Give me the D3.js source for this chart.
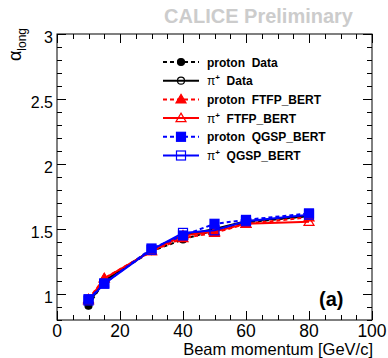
<!DOCTYPE html>
<html>
<head>
<meta charset="utf-8">
<script src="https://cdn.jsdelivr.net/npm/d3@7"></script>
<style>
  body { margin: 0; background: #fff; }
  svg { display: block; font-family: "Liberation Sans", Arial, sans-serif; }
  text { white-space: pre; }
</style>
</head>
<body>
<div id="chart"></div>
<script>
const momenta = [10, 15, 30, 40, 50, 60, 80];
const protonData = [0.91, 1.10, 1.33, 1.42, 1.49, 1.55, 1.60];
const pionData = [0.93, 1.10, 1.34, 1.45, 1.50, 1.56, 1.60];
const protonFTFP = [0.96, 1.12, 1.33, 1.43, 1.47, 1.54, 1.59];
const pionFTFP = [0.95, 1.12, 1.33, 1.45, 1.48, 1.54, 1.555];
const protonQGSP = [0.96, 1.08, 1.35, 1.45, 1.54, 1.57, 1.62];
const pionQGSP = [0.95, 1.08, 1.34, 1.47, 1.49, 1.56, 1.61];

const xTicks = [0, 20, 40, 60, 80, 100];
const yTicks = [1, 1.5, 2, 2.5, 3];

const series = [
  { name: 'proton  Data', pre: '', values: protonData, color: '#000', dashed: true, shape: 'circle', filled: true },
  { name: '  Data', pre: 'π', values: pionData, color: '#000', dashed: false, shape: 'circle', filled: false },
  { name: 'proton  FTFP_BERT', pre: '', values: protonFTFP, color: '#ff0000', dashed: true, shape: 'triangle', filled: true },
  { name: '  FTFP_BERT', pre: 'π', values: pionFTFP, color: '#ff0000', dashed: false, shape: 'triangle', filled: false },
  { name: 'proton  QGSP_BERT', pre: '', values: protonQGSP, color: '#0000ff', dashed: true, shape: 'square', filled: true },
  { name: '  QGSP_BERT', pre: 'π', values: pionQGSP, color: '#0000ff', dashed: false, shape: 'square', filled: false },
];

const width = 388, height = 358;
const margin = { top: 34, right: 16, bottom: 38, left: 57 };

const x = d3.scaleLinear().domain([0, 100]).range([margin.left, width - margin.right]);
const y = d3.scaleLinear().domain([0.8, 3]).range([height - margin.bottom, margin.top]);

const svg = d3.select('#chart').append('svg')
  .attr('width', width).attr('height', height);

// CALICE label
svg.append('text')
  .attr('x', 353).attr('y', 23)
  .attr('text-anchor', 'end')
  .attr('font-size', 20).attr('font-weight', 'bold')
  .attr('fill', '#cccccc')
  .text('CALICE Preliminary');

const x0 = x.range()[0], x1 = x.range()[1];
const y0 = y.range()[0], y1 = y.range()[1];

// frame
svg.append('rect')
  .attr('x', x0).attr('y', y1)
  .attr('width', x1 - x0).attr('height', y0 - y1)
  .attr('fill', 'none').attr('stroke', '#000').attr('stroke-width', 1);

// ticks on all sides
const ticks = svg.append('g').attr('stroke', '#000').attr('stroke-width', 1);
d3.range(0, 101, 5).forEach(v => {
  const len = v % 20 === 0 ? 9 : 5;
  const px = Math.round(x(v)) + 0.5;
  ticks.append('line').attr('x1', px).attr('x2', px).attr('y1', y0).attr('y2', y0 - len);
  ticks.append('line').attr('x1', px).attr('x2', px).attr('y1', y1).attr('y2', y1 + len);
});
d3.range(8, 31).map(v => v / 10).forEach(v => {
  const major = Math.abs(v * 2 - Math.round(v * 2)) < 1e-6;
  const len = major ? 9 : 5;
  const py = Math.round(y(v)) + 0.5;
  ticks.append('line').attr('x1', x0).attr('x2', x0 + len).attr('y1', py).attr('y2', py);
  ticks.append('line').attr('x1', x1).attr('x2', x1 - len).attr('y1', py).attr('y2', py);
});

// tick labels
svg.append('g').selectAll('text').data(xTicks).join('text')
  .attr('x', d => x(d)).attr('y', y0 + 16.5)
  .attr('text-anchor', 'middle').attr('font-size', 17.5)
  .text(d => d);
svg.append('g').selectAll('text').data(yTicks).join('text')
  .attr('x', x0 - 4).attr('y', d => y(d) + 9)
  .attr('text-anchor', 'end').attr('font-size', 16)
  .text(d => d);

// axis titles
svg.append('text')
  .attr('x', x1 + 1).attr('y', 355)
  .attr('text-anchor', 'end').attr('font-size', 16.5)
  .text('Beam momentum [GeV/c]');

const yt = svg.append('text')
  .attr('transform', `translate(21, 28) rotate(-90)`)
  .attr('text-anchor', 'end').attr('font-size', 18);
yt.append('tspan').text('α');
yt.append('tspan').attr('font-size', 12).attr('dy', 5).text('long');

// (a)
svg.append('text')
  .attr('x', 319).attr('y', 306)
  .attr('font-size', 20).attr('font-weight', 'bold')
  .text('(a)');

function marker(g, s, cx, cy) {
  const fill = s.filled ? s.color : 'none';
  if (s.shape === 'circle') {
    g.append('circle').attr('cx', cx).attr('cy', cy).attr('r', 3.5)
      .attr('fill', fill).attr('stroke', s.color).attr('stroke-width', 1.2);
  } else if (s.shape === 'triangle') {
    const r = 5;
    g.append('path')
      .attr('d', `M${cx},${cy - r}L${cx + r},${cy + r * 0.7}L${cx - r},${cy + r * 0.7}Z`)
      .attr('fill', fill).attr('stroke', s.color).attr('stroke-width', 1.2);
  } else {
    const r = 4.5;
    g.append('rect').attr('x', cx - r).attr('y', cy - r).attr('width', 2 * r).attr('height', 2 * r)
      .attr('fill', fill).attr('stroke', s.color).attr('stroke-width', 1.2);
  }
}

// series
const line = d3.line().x(d => x(d[0])).y(d => y(d[1]));
series.forEach(s => {
  const pts = momenta.map((m, i) => [m, s.values[i]]);
  const g = svg.append('g');
  g.append('path').datum(pts)
    .attr('d', line).attr('fill', 'none')
    .attr('stroke', s.color).attr('stroke-width', 2)
    .attr('stroke-dasharray', s.dashed ? '4,3' : null);
  pts.forEach(p => marker(g, s, x(p[0]), y(p[1])));
});

// legend
const legend = svg.append('g');
series.forEach((s, i) => {
  const ly = 62 + i * 18.7;
  const g = legend.append('g');
  g.append('line').attr('x1', 163).attr('x2', 199).attr('y1', ly).attr('y2', ly)
    .attr('stroke', s.color).attr('stroke-width', 2)
    .attr('stroke-dasharray', s.dashed ? '4,3' : null);
  marker(g, s, 181, ly);
  const t = g.append('text').attr('x', 207).attr('y', ly + 4.5)
    .attr('font-size', 12).attr('font-weight', 'bold');
  if (s.pre) {
    t.append('tspan').attr('font-weight', 'normal').text(s.pre);
    t.append('tspan').attr('font-size', 8).attr('dy', -5).text('+');
    t.append('tspan').attr('dy', 5).text(s.name);
  } else {
    t.text(s.name);
  }
});
</script>
</body>
</html>
